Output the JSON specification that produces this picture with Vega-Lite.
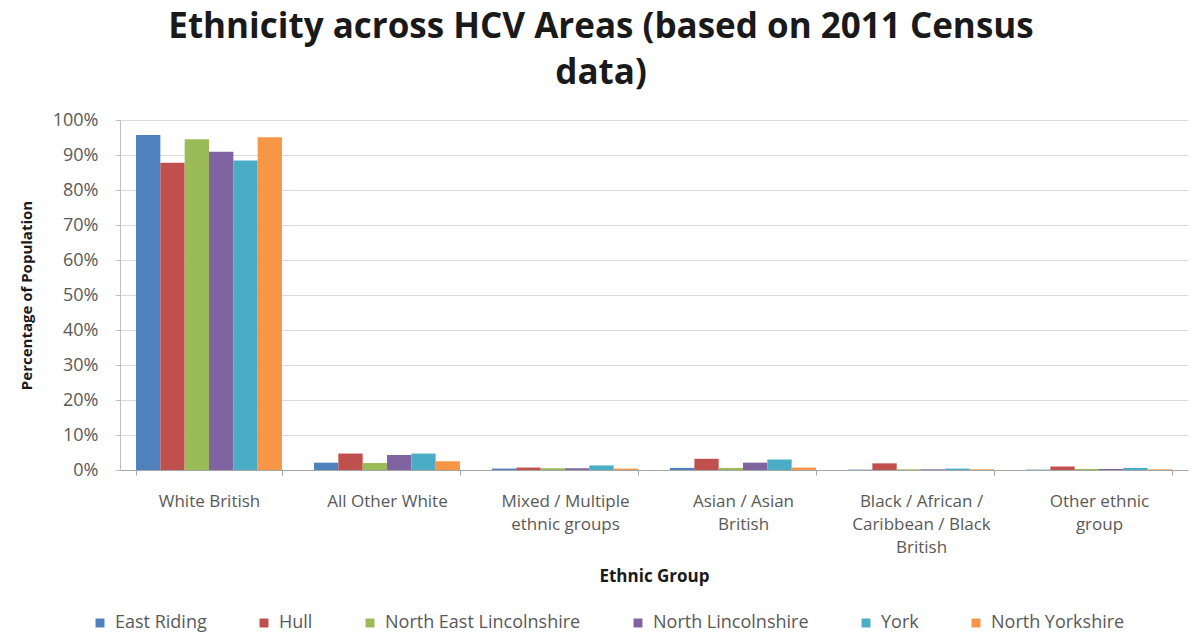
{
  "$schema": "https://vega.github.io/schema/vega-lite/v6.json",
  "width": 1068,
  "height": 350,
  "autosize": {"type": "none"},
  "padding": {"left": 120, "top": 120, "right": 14, "bottom": 167},
  "background": "white",
  "title": {
    "text": ["Ethnicity across HCV Areas (based on 2011 Census", "data)"],
    "font": "Open Sans",
    "fontSize": 35,
    "fontWeight": "bold",
    "lineHeight": 46,
    "color": "#1a1a1a",
    "anchor": "middle",
    "dx": -53,
    "offset": 20
  },
  "data": {
    "values": [
      {"group": "White British", "area": "East Riding", "value": 0.957},
      {"group": "White British", "area": "Hull", "value": 0.878},
      {"group": "White British", "area": "North East Lincolnshire", "value": 0.945},
      {"group": "White British", "area": "North Lincolnshire", "value": 0.909},
      {"group": "White British", "area": "York", "value": 0.884},
      {"group": "White British", "area": "North Yorkshire", "value": 0.951},
      {"group": "All Other White", "area": "East Riding", "value": 0.021},
      {"group": "All Other White", "area": "Hull", "value": 0.047},
      {"group": "All Other White", "area": "North East Lincolnshire", "value": 0.020},
      {"group": "All Other White", "area": "North Lincolnshire", "value": 0.043},
      {"group": "All Other White", "area": "York", "value": 0.047},
      {"group": "All Other White", "area": "North Yorkshire", "value": 0.025},
      {"group": "Mixed / Multiple ethnic groups", "area": "East Riding", "value": 0.004},
      {"group": "Mixed / Multiple ethnic groups", "area": "Hull", "value": 0.007},
      {"group": "Mixed / Multiple ethnic groups", "area": "North East Lincolnshire", "value": 0.005},
      {"group": "Mixed / Multiple ethnic groups", "area": "North Lincolnshire", "value": 0.005},
      {"group": "Mixed / Multiple ethnic groups", "area": "York", "value": 0.013},
      {"group": "Mixed / Multiple ethnic groups", "area": "North Yorkshire", "value": 0.004},
      {"group": "Asian / Asian British", "area": "East Riding", "value": 0.006},
      {"group": "Asian / Asian British", "area": "Hull", "value": 0.032},
      {"group": "Asian / Asian British", "area": "North East Lincolnshire", "value": 0.006},
      {"group": "Asian / Asian British", "area": "North Lincolnshire", "value": 0.021},
      {"group": "Asian / Asian British", "area": "York", "value": 0.030},
      {"group": "Asian / Asian British", "area": "North Yorkshire", "value": 0.007},
      {"group": "Black / African / Caribbean / Black British", "area": "East Riding", "value": 0.001},
      {"group": "Black / African / Caribbean / Black British", "area": "Hull", "value": 0.019},
      {"group": "Black / African / Caribbean / Black British", "area": "North East Lincolnshire", "value": 0.002},
      {"group": "Black / African / Caribbean / Black British", "area": "North Lincolnshire", "value": 0.002},
      {"group": "Black / African / Caribbean / Black British", "area": "York", "value": 0.004},
      {"group": "Black / African / Caribbean / Black British", "area": "North Yorkshire", "value": 0.002},
      {"group": "Other ethnic group", "area": "East Riding", "value": 0.001},
      {"group": "Other ethnic group", "area": "Hull", "value": 0.010},
      {"group": "Other ethnic group", "area": "North East Lincolnshire", "value": 0.003},
      {"group": "Other ethnic group", "area": "North Lincolnshire", "value": 0.003},
      {"group": "Other ethnic group", "area": "York", "value": 0.006},
      {"group": "Other ethnic group", "area": "North Yorkshire", "value": 0.002}
    ]
  },
  "mark": {"type": "bar"},
  "encoding": {
    "x": {
      "field": "group",
      "type": "nominal",
      "sort": ["White British", "All Other White", "Mixed / Multiple ethnic groups", "Asian / Asian British", "Black / African / Caribbean / Black British", "Other ethnic group"],
      "scale": {"paddingInner": 0.18, "paddingOuter": 0.09},
      "axis": {
        "title": "Ethnic Group",
        "titleFont": "Open Sans",
        "titleFontSize": 17,
        "titleFontWeight": "bold",
        "titleColor": "#1a1a1a",
        "titlePadding": 13,
        "labelAngle": 0,
        "labelFont": "Open Sans",
        "labelFontSize": 17,
        "labelColor": "#595959",
        "labelLineHeight": 23,
        "labelPadding": 18,
        "labelLimit": 300,
        "labelOverlap": false,
        "labelExpr": "datum.label == 'Mixed / Multiple ethnic groups' ? ['Mixed / Multiple', 'ethnic groups'] : datum.label == 'Asian / Asian British' ? ['Asian / Asian', 'British'] : datum.label == 'Black / African / Caribbean / Black British' ? ['Black / African /', 'Caribbean / Black', 'British'] : datum.label == 'Other ethnic group' ? ['Other ethnic', 'group'] : datum.label",
        "domainColor": "#a6a6a6",
        "tickColor": "#a6a6a6",
        "tickSize": 5,
        "tickBand": "extent",
        "grid": false
      }
    },
    "xOffset": {
      "field": "area",
      "type": "nominal",
      "sort": ["East Riding", "Hull", "North East Lincolnshire", "North Lincolnshire", "York", "North Yorkshire"],
      "scale": {"paddingInner": 0, "paddingOuter": 0}
    },
    "y": {
      "field": "value",
      "type": "quantitative",
      "scale": {"domain": [0, 1]},
      "axis": {
        "title": "Percentage of Population",
        "titleFont": "Open Sans",
        "titleFontSize": 15,
        "titleFontWeight": "bold",
        "titleColor": "#1a1a1a",
        "titlePadding": 18,
        "format": ".0%",
        "values": [0, 0.1, 0.2, 0.3, 0.4, 0.5, 0.6, 0.7, 0.8, 0.9, 1],
        "labelOverlap": false,
        "labelFont": "Open Sans",
        "labelFontSize": 18,
        "labelColor": "#595959",
        "labelPadding": 17,
        "tickSize": 5,
        "tickColor": "#bfbfbf",
        "domainColor": "#bfbfbf",
        "gridColor": "#d9d9d9",
        "gridWidth": 1
      }
    },
    "color": {
      "field": "area",
      "type": "nominal",
      "scale": {
        "domain": ["East Riding", "Hull", "North East Lincolnshire", "North Lincolnshire", "York", "North Yorkshire"],
        "range": ["#4F81BD", "#C0504D", "#9BBB59", "#8064A2", "#4BACC6", "#F79646"]
      },
      "legend": {
        "title": null,
        "orient": "none",
        "legendX": -29,
        "legendY": 494,
        "direction": "horizontal",
        "columns": 6,
        "symbolType": "square",
        "symbolSize": 80,
        "labelFont": "Open Sans",
        "labelFontSize": 18,
        "labelLimit": 400,
        "labelColor": "#595959",
        "columnPadding": 48,
        "labelOffset": 6
      }
    }
  },
  "config": {
    "view": {"stroke": null}
  }
}
